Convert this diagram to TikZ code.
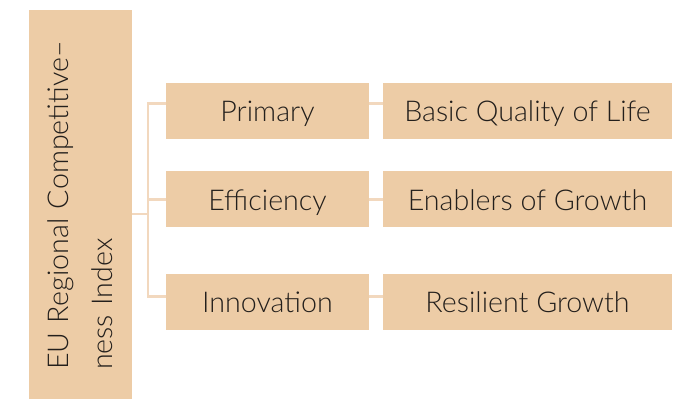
\documentclass[tikz,border=0pt]{standalone}
\usepackage{fontspec}
\setmainfont{Lato Light}
\definecolor{boxfill}{RGB}{237,204,166}
\definecolor{linkcol}{RGB}{242,216,190}
\definecolor{txtcol}{RGB}{35,31,28}
\tikzset{
    box/.style={fill=boxfill, text=txtcol, inner sep=0pt, text height=12pt, text depth=0pt,
                font=\fontsize{16.3}{20}\selectfont},
    link/.style={draw=linkcol, line width=1.7pt}
}
\begin{document}
\begin{tikzpicture}
    \useasboundingbox (0,0) rectangle (13.86,-7.98);

    % Index box (rotated text)
    \node[fill=boxfill, text=txtcol, inner sep=0pt, rotate=90, minimum width=7.78cm, minimum height=2.06cm,
          text width=6.62cm, align=left, font=\fontsize{16.3}{25}\selectfont]
          (idx) at (1.61,-4.09) {EU Regional Competitive--\\ness Index};

    % Sub-indices and their themes
    \foreach \nm/\txt/\thm/\y in {prim/Primary/Basic Quality of Life/-2.22,
                                  eff/Efficiency/Enablers of Growth/-3.99,
                                  inno/Innovation/Resilient Growth/-6.04}{
        \node[box, minimum width=4.06cm, minimum height=1.12cm] (\nm) at (5.35,\y) {\txt};
        \node[box, minimum width=5.78cm, minimum height=1.12cm] (\nm-t) at (10.55,\y) {\thm};
    }

    % Tree connectors
    \coordinate (trunk) at (2.96,-4.28);
    \draw[link] (idx.south |- trunk) -- (trunk);
    \draw[link] ([yshift=4pt]prim.west) -| (trunk) |- ([yshift=3pt]inno.west);
    \draw[link] (trunk |- eff.west) -- (eff.west);
    \draw[link] ([yshift=4pt]prim.east) -- ([yshift=4pt]prim-t.west);
    \draw[link] (eff.east) -- (eff-t.west);
    \draw[link] ([yshift=3pt]inno.east) -- ([yshift=3pt]inno-t.west);
\end{tikzpicture}
\end{document}
